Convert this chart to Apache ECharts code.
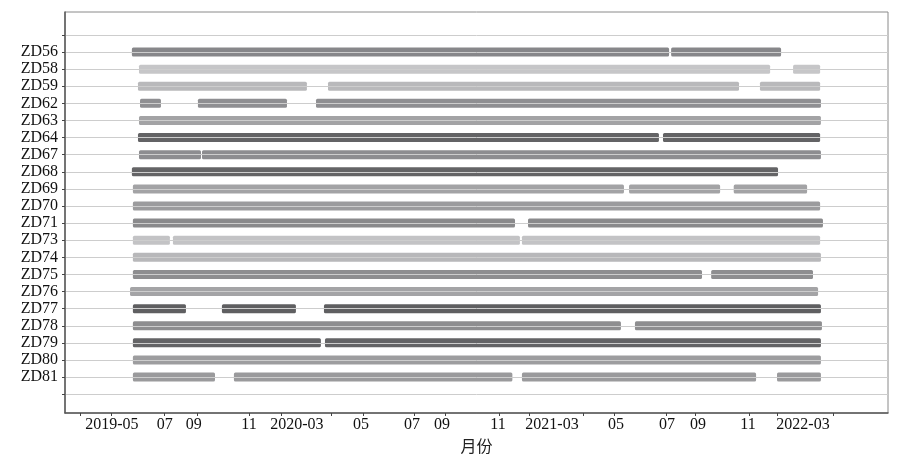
<!DOCTYPE html>
<html>
<head>
<meta charset="utf-8">
<script src="https://cdn.jsdelivr.net/npm/echarts@6/dist/echarts.min.js"></script>
<style>
  html, body { margin: 0; padding: 0; background: #fff; }
  #chart { width: 901px; height: 467px; }
</style>
</head>
<body>
<div id="chart"></div>
<script>
// 站点（从上到下）
var stations = ['ZD56', 'ZD58', 'ZD59', 'ZD62', 'ZD63', 'ZD64', 'ZD67', 'ZD68', 'ZD69', 'ZD70',
    'ZD71', 'ZD73', 'ZD74', 'ZD75', 'ZD76', 'ZD77', 'ZD78', 'ZD79', 'ZD80', 'ZD81'];

// 每个站点的有数据时段，单位：自 2019-01 起的月数
var segments = [
    [[4.98, 31.41], [31.51, 36.92]],
    [[5.33, 36.38], [37.51, 38.84]],
    [[5.28, 13.59], [14.63, 34.85], [35.88, 38.84]],
    [[5.38, 6.41], [8.23, 12.61], [14.04, 38.88]],
    [[5.33, 38.88]],
    [[5.28, 30.91], [31.11, 38.84]],
    [[5.33, 8.38], [8.43, 38.88]],
    [[4.98, 36.77]],
    [[5.03, 29.19], [29.44, 33.92], [34.59, 38.20]],
    [[5.03, 38.84]],
    [[5.03, 23.83], [24.47, 38.98]],
    [[5.03, 6.85], [7.00, 24.07], [24.17, 38.84]],
    [[5.03, 38.88]],
    [[5.03, 33.03], [33.48, 38.49]],
    [[4.89, 38.74]],
    [[5.03, 7.64], [9.41, 13.05], [14.43, 38.88]],
    [[5.03, 29.04], [29.73, 38.93]],
    [[5.03, 14.28], [14.48, 38.88]],
    [[5.03, 38.88]],
    [[5.03, 9.07], [10.00, 23.70], [24.17, 35.69], [36.72, 38.88]]
];

// x 轴刻度与标签
var tickMonths = [2.46, 3.95, 6.59, 8.18, 10.74, 12.33, 14.81, 16.34, 18.87, 20.40,
    23.06, 24.53, 27.18, 28.73, 31.26, 32.69, 35.34, 36.75, 39.49];
var labelMonths = [4.00, 6.60, 8.03, 10.74, 13.10, 16.25, 18.76, 20.24, 22.99, 25.65,
    28.80, 31.31, 32.83, 35.29, 38.00];
var labelTexts = ['2019-05', '07', '09', '11', '2020-03', '05', '07', '09', '11', '2021-03',
    '05', '07', '09', '11', '2022-03'];

// 每行的灰度
var rowColors = ['#87878a', '#c6c6c8', '#b9b9bb', '#8f8f92', '#a3a3a5', '#636365', '#8d8d90',
    '#646466', '#a3a3a5', '#9c9c9e', '#8a8a8c', '#c3c3c5', '#b8b8ba', '#8e8e90', '#a4a4a6',
    '#5f5f61', '#8e8e90', '#646466', '#9d9d9f', '#9a9a9c'];

var n = stations.length;
var data = [];
segments.forEach(function (segs, i) {
    segs.forEach(function (s) {
        data.push([n - i, s[0], s[1], i]);
    });
});

var yTicks = [];
for (var k = 0; k <= n + 1; k++) yTicks.push(k);
var yLabels = yTicks.slice(1, n + 1);

var font = '"Liberation Serif", "Noto Sans CJK SC", serif';

var chart = echarts.init(document.getElementById('chart'));
var option = {
    animation: false,
    grid: {
        left: 65, right: 13, top: 12, bottom: 54,
        show: true, borderColor: '#8a8a8a', borderWidth: 1
    },
    xAxis: {
        type: 'value',
        min: 1.69,
        max: 42.18,
        name: '月份',
        nameLocation: 'middle',
        nameGap: 27,
        nameTextStyle: { color: '#222', fontSize: 16, fontFamily: font },
        axisLine: { show: true, onZero: false, lineStyle: { color: '#5a5a5a', width: 1.5 } },
        axisTick: { show: true, length: 3, customValues: tickMonths, lineStyle: { color: '#444' } },
        axisLabel: {
            customValues: labelMonths,
            margin: 4,
            color: '#111',
            fontSize: 16,
            fontFamily: font,
            formatter: function (v) {
                var best = 0;
                for (var i = 1; i < labelMonths.length; i++) {
                    if (Math.abs(labelMonths[i] - v) < Math.abs(labelMonths[best] - v)) best = i;
                }
                return labelTexts[best];
            }
        },
        splitLine: { show: false }
    },
    yAxis: {
        type: 'value',
        min: -1.1,
        max: 22.34,
        z: 3,
        axisLine: { show: true, onZero: false, lineStyle: { color: '#5a5a5a', width: 1.5 } },
        axisTick: { show: true, length: 3, customValues: yTicks, lineStyle: { color: '#444' } },
        axisLabel: {
            customValues: yLabels,
            margin: 7,
            color: '#111',
            fontSize: 16,
            fontFamily: font,
            formatter: function (v) {
                return stations[n - Math.round(v)] || '';
            }
        },
        splitLine: { show: true, lineStyle: { color: '#cdcdcd', width: 1 } }
    },
    series: [{
        type: 'custom',
        encode: { x: [1, 2], y: 0 },
        data: data,
        renderItem: function (params, api) {
            var y = api.value(0);
            var p0 = api.coord([api.value(1), y]);
            var p1 = api.coord([api.value(2), y]);
            var h = 9;
            return {
                type: 'rect',
                shape: { x: p0[0], y: p0[1] - h / 2, width: p1[0] - p0[0], height: h, r: 1.5 },
                style: { fill: rowColors[api.value(3)] }
            };
        }
    }]
};
option && chart.setOption(option);
</script>
</body>
</html>
